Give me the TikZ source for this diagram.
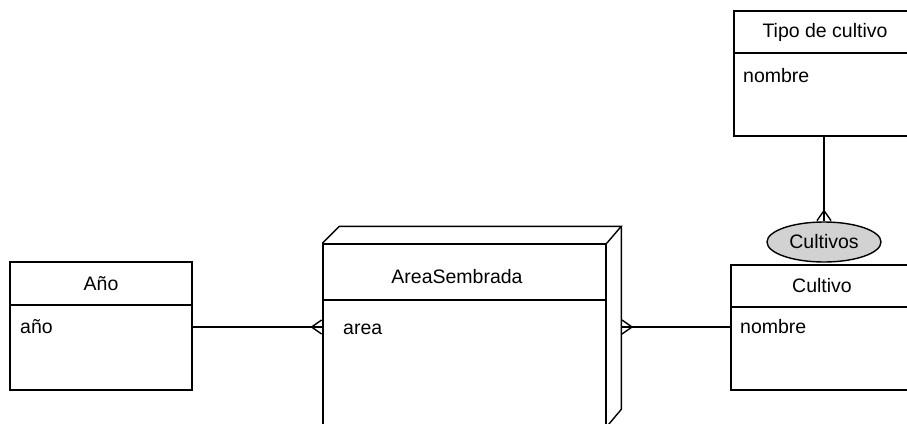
\documentclass[tikz,border=0pt]{standalone}
\usepackage{fontspec}
\setmainfont{Liberation Sans}
\usetikzlibrary{arrows.meta,shapes.geometric}
\begin{document}
\begin{tikzpicture}[x=1pt,y=-1pt]
  \tikzstyle{box} = [draw, line width=1.4pt, inner sep=0pt, minimum width=182pt]
  \tikzstyle{label} = [font=\fontsize{19.5}{22}\selectfont]
  \tikzstyle{attr} = [font=\fontsize{19.5}{22}\selectfont, anchor=west, inner sep=0pt]
  \tikzstyle{link} = [line width=1.4pt]
  % crow's foot on top of the full line
  \tikzstyle{many} = [postaction={draw, -{Straight Barb[reversed, length=10pt, width=14pt, line width=1.4pt]}}]
  \clip (0,0) rectangle (907,423);
  % Año
  \node[box, label, minimum height=43pt] (anioHead) at (101,283.5) {Año};
  \node[box, minimum height=85pt] (anioBody) at (101,347.5) {};
  \node[attr] (anioAttr) at (20,327) {año};
  % AreaSembrada, drawn as a block
  \node[box, minimum width=283pt, minimum height=56pt] (areaHead) at (464.5,272) {};
  \node[box, minimum width=283pt, minimum height=126pt] (areaBody) at (464.5,363) {};
  \node[label] (areaTitle) at (457,277) {AreaSembrada};
  \node[attr] (areaAttr) at (343,329) {area};
  \draw[link] (areaHead.north west) -- ++(17,-17) coordinate (backL)
    -- ++(282,0) coordinate (backR) -- (areaHead.north east);
  \draw[link] (backR) -- ++(0,183) -- (areaBody.south east);
  % Cultivo
  \node[box, label, minimum height=42pt] (cultHead) at (822,286) {Cultivo};
  \node[box, minimum height=83pt] (cultBody) at (822,348.5) {};
  \node[attr] (cultAttr) at (740,327) {nombre};
  \coordinate (areaSide) at (backR |- cultAttr);
  % Tipo de cultivo
  \node[box, label, minimum height=42pt] (tipoHead) at (825,32) {Tipo de cultivo};
  \node[box, minimum height=83pt] (tipoBody) at (825,94.5) {};
  \node[attr] (tipoAttr) at (743,76) {nombre};
  % relation
  \node[draw, ellipse, line width=1.4pt, fill=gray!35, label, minimum width=114pt,
    minimum height=40pt, inner sep=0pt] (cultivos) at (824,242) {Cultivos};
  % links
  \draw[link, many] (anioBody.east |- anioAttr) -- (areaBody.west |- anioAttr);
  \draw[link, many] (cultBody.west |- cultAttr) -- (areaSide);
  \draw[link, many] (tipoBody.south -| cultivos) -- (cultivos.north);
\end{tikzpicture}
\end{document}
